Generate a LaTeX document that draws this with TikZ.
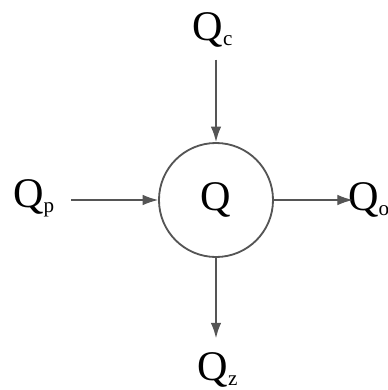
\documentclass[tikz,border=0pt]{standalone}
\usepackage{fontspec}
\setmainfont{Liberation Serif}
\usepackage{xcolor}
\usetikzlibrary{arrows.meta}
\definecolor{flowcolor}{RGB}{85,85,85}
\tikzset{
    baselbl/.style={inner sep=0pt,
        font=\fontsize{30}{32}\selectfont},
    storenode/.style={circle, draw=flowcolor, line width=1.3pt,
        minimum size=2.85cm, inner sep=0pt,
        font=\fontsize{30}{32}\selectfont},
    flow/.style={-{Latex[length=11pt,width=7.5pt]}, line width=1.3pt, flowcolor},
    thinflow/.style={flow, line width=0.8pt}
}
\newcommand{\sbs}[1]{\textsubscript{\fontsize{15}{16}\selectfont #1}}

\begin{document}
\begin{tikzpicture}[x=0.025cm, y=-0.025cm]
\useasboundingbox (0,0) rectangle (388,390);

% Centre
\node[storenode] (Q) at (216, 200) {Q};

% Labels
\node[baselbl] (Qc) at (213, 30)  {Q\sbs{c}};
\node[baselbl] (Qp) at (34, 198)  {Q\sbs{p}};
\node[baselbl] (Qz) at (218, 370) {Q\sbs{z}};
\node[baselbl, anchor=west] (Qo) at (348, 200) {Q\sbs{o}};

% Flows
\draw[flow, shorten <=0.3cm] (Q.north |- Qc.south) -- (Q);
\draw[thinflow, shorten <=0.4cm] (Qp.east |- Q) -- (Q);
\draw[thinflow, shorten >=-0.12cm] (Q) -- (Q -| Qo.west);
\draw[flow, shorten >=0.35cm] (Q) -- (Q.south |- Qz.north);

\end{tikzpicture}
\end{document}
